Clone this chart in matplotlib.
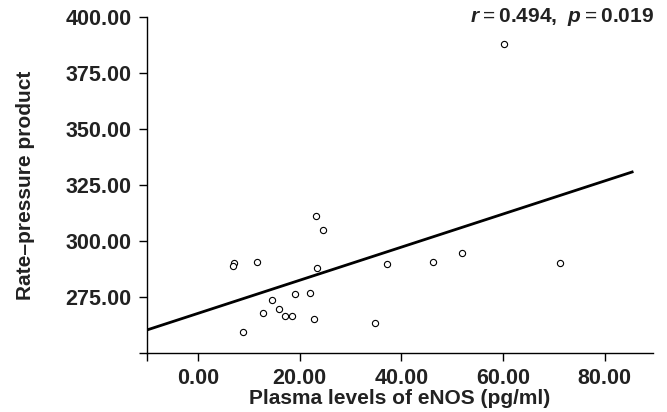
import numpy as np
import matplotlib
matplotlib.use("Agg")
import matplotlib.pyplot as plt

# data
enos = [7.1, 7.0, 11.6, 8.9, 12.8, 14.6, 15.9, 17.1, 18.6, 19.2, 22.0,
        22.9, 23.2, 24.7, 23.5, 34.9, 37.1, 60.2, 46.3, 52.0, 71.2]
rpp = [289.9, 288.5, 290.6, 259.1, 267.7, 273.7, 269.5, 266.3, 266.2, 276.2, 276.6,
       265.0, 311.0, 304.7, 287.6, 263.4, 289.6, 388.2, 290.3, 294.6, 289.9]
fit_intercept = 267.5
fit_slope = 0.741
fit_range = [-10.0, 85.4]
x_ticks = [0, 20, 40, 60, 80]
y_ticks = [275, 300, 325, 350, 375, 400]

plt.rcParams["font.family"] = "Liberation Sans"
plt.rcParams["mathtext.fontset"] = "custom"
plt.rcParams["mathtext.rm"] = "Liberation Sans"
plt.rcParams["mathtext.bf"] = "Liberation Sans:bold"
plt.rcParams["mathtext.bfit"] = "Liberation Sans:bold:italic"

fig = plt.figure(figsize=(6.67, 4.12), dpi=100)
ax = fig.add_axes([0.2204, 0.1444, 0.979 - 0.2204, 0.958 - 0.1444])

ax.scatter(enos, rpp, s=20, facecolors="white", edgecolors="black",
           linewidths=0.8, zorder=3, clip_on=False)

fx = np.array(fit_range)
ax.plot(fx, fit_intercept + fit_slope * fx, color="black", lw=2.0, zorder=2)

ax.set_xlim(-10, 89.5)
ax.set_ylim(250, 400)
ax.set_xticks([-10] + x_ticks)
ax.set_xticklabels([""] + ["%.2f" % v for v in x_ticks])
ax.set_yticks([250] + y_ticks)
ax.set_yticklabels([""] + ["%.2f" % v for v in y_ticks])

for s in ["top", "right"]:
    ax.spines[s].set_visible(False)
for s in ["left", "bottom"]:
    ax.spines[s].set_linewidth(1.0)

ax.tick_params(axis="both", direction="out", length=6, width=1.0,
               labelsize=15.5, pad=5)
for lab in ax.get_xticklabels() + ax.get_yticklabels():
    lab.set_fontweight("bold")
    lab.set_color("#222222")

ax.set_xlabel("Plasma levels of eNOS (pg/ml)", fontsize=15, fontweight="bold",
              color="#222222", labelpad=0)
ax.set_ylabel("Rate\u2013pressure product", fontsize=15, fontweight="bold",
              color="#222222")
ax.yaxis.set_label_coords(-0.222, 0.5)

fig.text(0.981, 0.958, r"$\mathbfit{r} = \mathbf{0.494,}\ \mathbfit{p} = \mathbf{0.019}$",
         ha="right", va="center", fontsize=15, color="#222222")

fig.savefig("out.png", dpi=100)
